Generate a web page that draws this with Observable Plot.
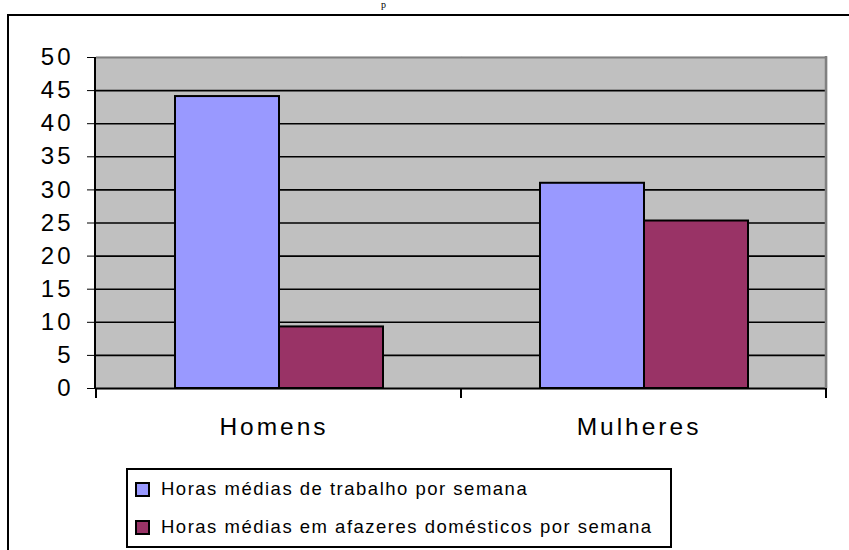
<!DOCTYPE html>
<html>
<head>
<meta charset="utf-8">
<script src="https://cdn.jsdelivr.net/npm/d3@7"></script>
<script src="https://cdn.jsdelivr.net/npm/@observablehq/plot@0.6"></script>
<style>
  html, body { margin: 0; padding: 0; background: #fff; }
  #wrap { position: relative; width: 849px; height: 550px; overflow: hidden; font-family: "Liberation Sans", Arial, sans-serif; }
  #border { position: absolute; left: 7px; top: 14px; width: 1000px; height: 700px; border-left: 2.5px solid #000; border-top: 2.5px solid #000; box-sizing: border-box; }
  #titlefrag { position: absolute; left: 381px; top: 0px; font-family: "Liberation Serif", "Times New Roman", serif; font-size: 10px; line-height: 10px; color: #000; }
  #chart { position: absolute; left: 0; top: 0; }
  #legend { position: absolute; left: 126px; top: 468px; width: 546px; height: 80px; border: 2px solid #000; box-sizing: border-box; background: #fff; }
  .item { position: absolute; left: 7px; height: 22px; display: flex; align-items: center; font-size: 18.5px; letter-spacing: 1.5px; color: #000; white-space: nowrap; }
  .sw { width: 11px; height: 11px; border: 2px solid #000; margin-right: 11px; flex: none; }
</style>
</head>
<body>
<div id="wrap">
  <div id="border"></div>
  <div id="titlefrag">p</div>
  <div id="chart"></div>
  <div id="legend"></div>
</div>
<script>
const categories = ["Homens", "Mulheres"];
const series = ["Horas médias de trabalho por semana", "Horas médias em afazeres domésticos por semana"];
const trabalho = [44.1, 31.0];
const afazeres = [9.3, 25.3];
const yTicks = [0, 5, 10, 15, 20, 25, 30, 35, 40, 45, 50];
const gridTicks = [5, 10, 15, 20, 25, 30, 35, 40, 45];
const palette = ["#9999FF", "#993366"];

const data = [];
categories.forEach((c, i) => {
  data.push({category: c, series: series[0], value: trabalho[i]});
  data.push({category: c, series: series[1], value: afazeres[i]});
});

const chart = Plot.plot({
  width: 849,
  height: 550,
  marginTop: 57,
  marginBottom: 162,
  marginLeft: 95,
  marginRight: 23,
  style: {fontFamily: "'Liberation Sans', Arial, sans-serif", fontSize: "24px", letterSpacing: "3px", color: "#000", background: "transparent"},
  fx: {domain: categories, padding: 0, axis: null, label: null},
  x: {domain: series, paddingInner: 0, paddingOuter: 0.75, axis: null},
  y: {domain: [0, 50], ticks: yTicks, tickSize: 9, tickPadding: 14, label: null},
  color: {domain: series, range: palette},
  marks: [
    Plot.frame({fill: "#C0C0C0", stroke: "#C0C0C0", strokeWidth: 1.5}),
    Plot.ruleY(gridTicks, {stroke: "#000", strokeWidth: 1.6}),
    Plot.ruleY([50], {stroke: "#808080", strokeWidth: 2}),
    Plot.barY(data, {fx: "category", x: "series", y: "value", fill: "series", stroke: "#000", strokeWidth: 2}),
    Plot.ruleY([0], {stroke: "#000", strokeWidth: 2}),
    Plot.text(categories, {fx: d => d, text: d => d, frameAnchor: "bottom", lineAnchor: "middle", dy: 39, dx: -5, fontSize: 24.5, fill: "#000"})
  ]
});

document.getElementById("chart").appendChild(chart);

// axis lines and category boundary ticks from the plot's own scales
const ys = chart.scale("y");
const fxs = chart.scale("fx");
const svg = d3.select(chart);
const y0 = ys.apply(0), y50 = ys.apply(50);
const left = fxs.range[0], right = fxs.range[1];
svg.append("line").attr("x1", right).attr("x2", right).attr("y1", y50 - 1).attr("y2", y0)
  .attr("stroke", "#808080").attr("stroke-width", 2.5);
svg.append("line").attr("x1", left).attr("x2", left).attr("y1", y50).attr("y2", y0 + 1)
  .attr("stroke", "#000").attr("stroke-width", 2);
const edges = new Set();
categories.forEach(c => { edges.add(fxs.apply(c)); edges.add(fxs.apply(c) + fxs.bandwidth); });
[...edges].forEach(xv => {
  svg.append("line").attr("x1", xv).attr("x2", xv).attr("y1", y0).attr("y2", y0 + 10)
    .attr("stroke", "#000").attr("stroke-width", 2);
});

// legend
const legend = document.getElementById("legend");
series.forEach((s, i) => {
  const it = document.createElement("div");
  it.className = "item";
  it.style.top = (i === 0 ? 8 : 46) + "px";
  const sw = document.createElement("span");
  sw.className = "sw";
  sw.style.background = palette[i];
  const tx = document.createElement("span");
  tx.textContent = s;
  it.appendChild(sw);
  it.appendChild(tx);
  legend.appendChild(it);
});
</script>
</body>
</html>
